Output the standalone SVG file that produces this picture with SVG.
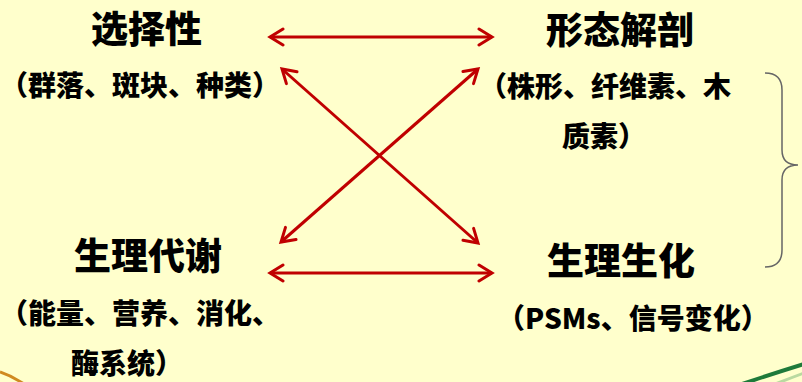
<svg xmlns="http://www.w3.org/2000/svg" width="802" height="382" viewBox="0 0 802 382">
<style>
.t{font-family:"Noto Sans CJK SC","Noto Sans",sans-serif;font-weight:900;fill:#000}
.h{font-size:37px}
.s{font-size:28px}
.a{stroke:#C00000;stroke-width:3;fill:none;marker-start:url(#ah);marker-end:url(#ah)}
</style>
<defs>
<marker id="ah" markerUnits="userSpaceOnUse" markerWidth="20" markerHeight="20" refX="0" refY="0" viewBox="-16 -10 20 20" orient="auto-start-reverse">
<path d="M -13 -8 L 0 0 L -13 8" fill="none" stroke="#C00000" stroke-width="3" stroke-linecap="round" stroke-linejoin="miter"/>
</marker>
</defs>
<rect width="802" height="382" fill="#FFFFCC"/>
<path d="M 0 372 Q 12 376 24 384" fill="none" stroke="#D08A20" stroke-width="3"/>
<path d="M 742 384 Q 775 373 804 364" fill="none" stroke="#1E7A3A" stroke-width="4"/>
<path d="M 770 386 Q 788 379 804 373" fill="none" stroke="#B9D9A0" stroke-width="3"/>
<g id="connectors">
<path class="a" d="M 270 37 L 492 37"/>
<path class="a" d="M 270 273 L 492 273"/>
<path class="a" d="M 282 69 L 478 243"/>
<path class="a" d="M 281 242 L 478 69"/>
</g>
<g id="brace">
<path d="M 765 73 Q 782 73 782 90 L 782 150 Q 782 165 798 165 Q 782 165 782 180 L 782 250 Q 782 267 765 267" fill="none" stroke="#666" stroke-width="1.5"/>
</g>
<g id="selectivity">
<text class="t h" x="91" y="43">选择性</text>
<text class="t s" x="0" y="96">（群落、斑块、种类）</text>
</g>
<g id="morphology">
<text class="t h" x="546" y="44">形态解剖</text>
<text class="t s" x="479" y="97">（株形、纤维素、木</text>
<text class="t s" x="562" y="147">质素）</text>
</g>
<g id="metabolism">
<text class="t h" x="74" y="270">生理代谢</text>
<text class="t s" x="0" y="324">（能量、营养、消化、</text>
<text class="t s" x="71" y="374">酶系统）</text>
</g>
<g id="biochemistry">
<text class="t h" x="547" y="275">生理生化</text>
<text class="t s" x="497" y="329">（PSMs、信号变化）</text>
</g>
</svg>
